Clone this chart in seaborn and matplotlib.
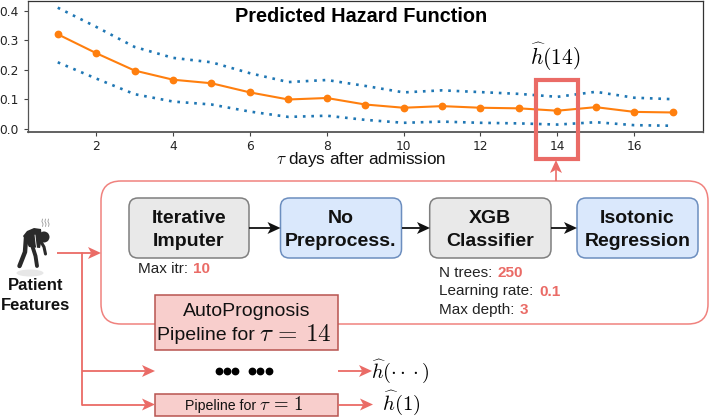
import numpy as np
import pandas as pd
import matplotlib
matplotlib.use('Agg')
import matplotlib.pyplot as plt
import seaborn as sns
from matplotlib.patches import FancyBboxPatch, Rectangle, Circle, Ellipse, Polygon

# values
days = [1, 2, 3, 4, 5, 6, 7, 8, 9, 10, 11, 12, 13, 14, 15, 16, 17]
hazard = [.32, .256, .197, .166, .154, .123, .099, .104, .082, .071, .0765, .071, .069, .061, .073, .057, .055]
upper = [.41, .345, .277, .24, .225, .188, .158, .165, .145, .123, .13, .124, .118, .108, .125, .105, .10]
lower = [.225, .17, .117, .092, .082, .058, .04, .044, .03, .02, .024, .02, .018, .014, .022, .012, .01]
x_ticks = [2, 4, 6, 8, 10, 12, 14, 16]
y_ticks = [0.0, 0.1, 0.2, 0.3, 0.4]

W, H = 709, 418
RED = '#EA6B66'
sns.set_style('white')
plt.rcParams['font.family'] = ['Liberation Sans', 'DejaVu Sans']
plt.rcParams['mathtext.fontset'] = 'cm'

fig = plt.figure(figsize=(W / 100, H / 100), dpi=100)

# line chart
ax = fig.add_axes([28 / W, 1 - 131.6 / H, 675 / W, 131.0 / H])
df = pd.DataFrame({'day': days, 'hazard': hazard, 'upper': upper, 'lower': lower})
sns.lineplot(data=df, x='day', y='upper', color='#1f77b4', linestyle=(0, (1, 2.2)), linewidth=1.9, ax=ax)
sns.lineplot(data=df, x='day', y='lower', color='#1f77b4', linestyle=(0, (1, 2.2)), linewidth=1.9, ax=ax)
sns.lineplot(data=df, x='day', y='hazard', color='#ff7f0e', marker='o', markersize=5.6,
             markeredgewidth=0, linewidth=1.5, ax=ax)
ax.set_xlim(0.226, 17.79)
ax.set_ylim(-0.0098, 0.434)
ax.set_xticks(x_ticks)
ax.set_yticks(y_ticks)
ax.set_yticklabels(['%.1f' % v for v in y_ticks])
ax.tick_params(axis='both', labelsize=8.8, length=3, width=0.8, bottom=True, left=True,
               pad=3.4, labelcolor='#222222', color='#444444')
for lab in ax.get_xticklabels() + ax.get_yticklabels():
    lab.set_family('DejaVu Sans')
ax.set_xlabel('')
ax.set_ylabel('')
for s in ax.spines.values():
    s.set_visible(True)
    s.set_color('#333333')
    s.set_linewidth(0.9)
ax.spines['left'].set_color('#555555')
ax.spines['bottom'].set_color('#555555')
ax.spines['bottom'].set_linewidth(1.3)

# diagram on top, in picture coordinates
d = fig.add_axes([0, 0, 1, 1], zorder=5)
d.set_xlim(0, W)
d.set_ylim(H, 0)
d.axis('off')
d.patch.set_alpha(0)

d.text(361.5, 17, 'Predicted Hazard Function', fontsize=14.3, fontweight='bold', ha='center', va='center', color='black')
d.text(361.5, 159.5, r'$\tau$ days after admission', fontsize=12.3, ha='center', va='center', color='#111111')
d.text(555, 57, r'$\widehat{h}(14)$', fontsize=15.5, ha='center', va='center', color='black')

d.add_patch(Rectangle((535.5, 79.5), 42, 79, fill=False, edgecolor=RED, linewidth=3))


def rbox(x0, y0, x1, y1, fc, ec, r=9, lw=1.1, z=2):
    d.add_patch(FancyBboxPatch((x0 + r, y0 + r), x1 - x0 - 2 * r, y1 - y0 - 2 * r,
                               boxstyle='round,pad=%f,rounding_size=%f' % (r, r),
                               facecolor=fc, edgecolor=ec, linewidth=lw, zorder=z))


def arrow(x0, y0, x1, y1, color=RED, lw=1.3, size=13):
    # line with a notched head, as the flow chart tool draws them
    ux, uy = np.sign(x1 - x0), np.sign(y1 - y0)
    px, py = -uy, ux
    back = size * 0.75
    d.plot([x0, x1 - ux * back], [y0, y1 - uy * back], color=color, lw=lw, solid_capstyle='butt', zorder=3)
    head = [(x1, y1),
            (x1 - ux * size + px * size * 0.46, y1 - uy * size + py * size * 0.46),
            (x1 - ux * back, y1 - uy * back),
            (x1 - ux * size - px * size * 0.46, y1 - uy * size - py * size * 0.46)]
    d.add_patch(Polygon(head, closed=True, facecolor=color, edgecolor='none', zorder=3))


rbox(101, 181, 708, 324, 'white', '#F0827E', r=20, lw=1.1, z=1)

# pipeline blocks
blocks = [
    (129, 249, 'Iterative\nImputer', '#E9E9E9', '#7F7F7F'),
    (280.5, 401.5, 'No\nPreprocess.', '#DAE8FC', '#6C8EBF'),
    (429.7, 551, 'XGB\nClassifier', '#E9E9E9', '#7F7F7F'),
    (577, 698, 'Isotonic\nRegression', '#DAE8FC', '#6C8EBF'),
]
for x0, x1, label, fc, ec in blocks:
    rbox(x0, 198, x1, 258, fc, ec)
    d.text((x0 + x1) / 2, 230, label, fontsize=14, fontweight='bold', ha='center', va='center',
           linespacing=1.42, color='#111111', zorder=4)

arrow(249, 228, 280.5, 228, color='#111111')
arrow(401.5, 228, 430, 228, color='#111111')
arrow(551, 228, 577, 228, color='#111111')

# parameters
def param(x, y, label, x2, val):
    d.text(x, y, label, fontsize=11, ha='left', va='center', color='#222222')
    d.text(x2, y, val, fontsize=11, fontweight='bold', ha='left', va='center', color=RED)


param(138, 269, 'Max itr:', 193, '10')
param(439, 273, 'N trees:', 497.5, '250')
param(439, 291.5, 'Learning rate:', 539, '0.1')
param(439, 310, 'Max depth:', 520, '3')

# AutoPrognosis boxes
d.add_patch(Rectangle((155, 294.5), 183, 55.5, facecolor='#F8CECC', edgecolor='#B85450', linewidth=1.1, zorder=2))
d.text(246.5, 312, 'AutoPrognosis', fontsize=14, ha='center', va='center', color='#111111', zorder=4)
d.text(255, 335, 'Pipeline for', fontsize=14, ha='right', va='center', color='#111111', zorder=4)
d.text(259, 334, r'$\tau\,=\,14$', fontsize=18, ha='left', va='center', color='#111111', zorder=4)
d.add_patch(Rectangle((155, 394), 183, 21.5, facecolor='#F8CECC', edgecolor='#B85450', linewidth=1.1, zorder=2))
d.text(256, 406, 'Pipeline for', fontsize=10.2, ha='right', va='center', color='#111111', zorder=4)
d.text(259, 405.5, r'$\tau\,=\,1$', fontsize=13.5, ha='left', va='center', color='#111111', zorder=4)

# red connections
d.plot([82, 82], [253, 404.5], color=RED, lw=1.3, zorder=3)
arrow(57, 253, 101, 253)
arrow(82, 371, 155, 371)
arrow(82, 404.5, 155, 404.5)
arrow(338, 371, 372, 371)
arrow(338, 404.5, 373, 404.5)
arrow(556, 181, 556, 160, lw=1.2)

d.plot([219, 227, 235, 252, 260, 268.5], [371] * 6, 'o', color='black', ms=4.6, zorder=4)
d.text(400, 372, r'$\widehat{h}(\cdot\cdot\cdot)$', fontsize=14.5, ha='center', va='center', color='black')
d.text(401, 403, r'$\widehat{h}(1)$', fontsize=15, ha='center', va='center', color='black')

# patient icon
fig_c = '#2A2A2A'
d.add_patch(Ellipse((30, 273), 27, 7, facecolor='#E2E2E2', edgecolor='none', alpha=0.8))
d.add_patch(Circle((44, 237), 5.5, facecolor=fig_c, edgecolor='none'))
d.add_patch(Polygon([(23, 236), (27, 231), (34, 228), (41, 229), (42, 238), (40, 248), (29, 247)], closed=True,
                    facecolor=fig_c, edgecolor='none'))
d.plot([26, 25, 19.5], [238, 252, 266], color=fig_c, lw=3.2, solid_capstyle='round')
d.plot([32, 35.5, 37], [245, 256, 266], color=fig_c, lw=2.8, solid_capstyle='round')
d.plot([40, 44, 45.5], [240, 247, 254], color=fig_c, lw=2.2, solid_capstyle='round')
d.plot([35, 36, 37], [235, 244, 250], color='white', lw=0.6)
for sx in [42.5, 45.5, 48.5]:
    d.plot([sx, sx - 0.6, sx + 0.6, sx], [219, 221.5, 224, 226.5], color='#999999', lw=0.6)
d.text(35.5, 285.5, 'Patient', fontsize=12, fontweight='bold', ha='center', va='center', color='#111111')
d.text(36, 305, 'Features', fontsize=12, fontweight='bold', ha='center', va='center', color='#111111')

plt.savefig('out.png', dpi=100)
